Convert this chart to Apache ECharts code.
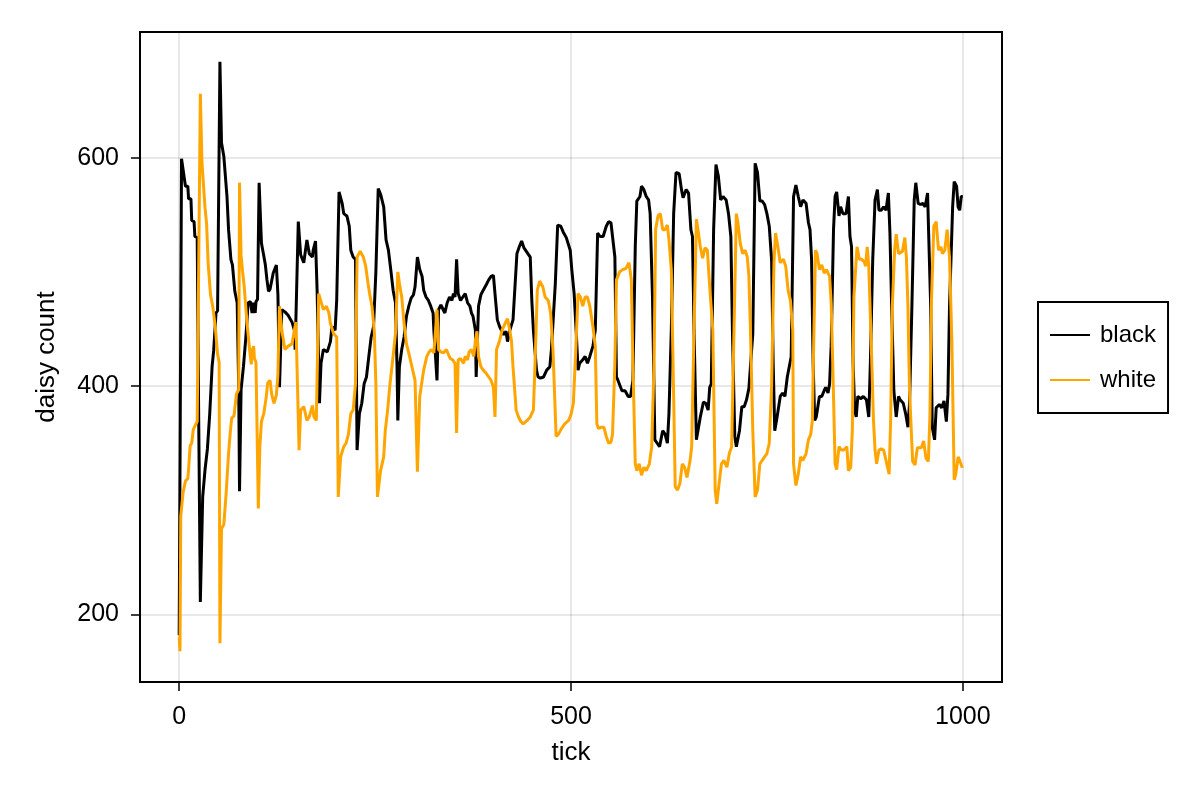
<!DOCTYPE html>
<html>
<head>
<meta charset="utf-8">
<script src="https://cdn.jsdelivr.net/npm/echarts@6/dist/echarts.min.js"></script>
<style>html,body{margin:0;padding:0;background:#fff;}#chart{width:1200px;height:800px;}</style>
</head>
<body>
<div id="chart"></div>
<script>
const seriesNames = ['black', 'white'];
const xTickValues = [0, 500, 1000];
const yTickValues = [200, 400, 600];

// [tick, daisy count]
const blackPoints = [
[0,182],[3,599],[8,575],[11,575],[12,564],[15,564],[16,545],[19,544],[20,531],[23,530],[25,365],[27,211],[30,303],[33,327],[36,345],[39,376],[42,417],[44,431],[47,464],[49,466],[52,684],[54,613],[57,601],[61,566],[63,537],[66,511],[68,506],[71,483],[74,473],[76,397],[77,308],[79,397],[82,417],[85,442],[88,473],[91,474],[93,464],[95,473],[97,464],[98,474],[100,476],[102,578],[105,525],[108,514],[110,506],[112,493],[114,483],[116,485],[120,499],[124,506],[126,480],[128,399],
[131,467],[135,465],[139,462],[144,456],[147,449],[148,432],[152,544],[155,515],[159,508],[163,528],[166,516],[170,513],[171,519],[174,527],[176,484],[179,385],[181,420],[184,432],[189,430],[193,439],[195,452],[199,449],[201,475],[204,570],[208,560],[210,551],[214,549],[217,540],[219,519],[222,513],[225,511],[227,344],[230,376],[233,385],[236,402],[239,408],[242,426],[245,443],[248,452],[251,500],[254,573],
[257,568],[261,557],[264,528],[267,519],[270,502],[273,484],[276,473],[278,417],[279,370],[281,417],[284,432],[287,443],[290,461],[293,470],[296,477],[299,480],[301,487],[304,513],[307,502],[310,496],[312,484],[315,478],[318,475],[321,470],[324,464],[325,449],[329,405],[331,467],[334,471],[336,470],[339,464],[342,473],[345,478],[348,475],[350,481],[352,478],[354,511],[356,481],[359,475],[362,478],[365,481],[368,473],[371,470],[373,464],[375,461],[378,449],[379,408],[382,470],[385,480],[388,484],[392,489],[395,493],[398,496],[401,497],[403,481],[406,458],[409,452],[414,445],[417,448],[419,439],[422,449],[426,458],[431,516],[434,522],[437,527],[440,521],[443,518],[448,513],[450,475],[452,449],[456,414],[458,408],[461,407],[465,408],[469,414],[473,417],[475,432],[480,490],[483,541],[487,540],[490,535],[494,530],[499,519],[501,502],[504,481],[507,443],[509,414],
[511,420],[515,423],[518,426],[521,420],[524,426],[528,435],[531,449],[534,534],[537,531],[541,531],[545,540],[548,544],[551,543],[553,531],[556,513],[558,408],[560,405],[565,396],[569,396],[573,391],[576,391],[579,405],[582,522],[584,562],[588,566],[590,575],[593,572],[596,566],[599,563],[601,551],[604,478],[607,353],[610,350],[613,347],[617,361],[620,358],[623,350],[625,376],[628,449],[631,551],[634,587],[638,586],[641,572],[643,565],[647,572],[650,569],[653,537],[655,531],[657,449],[660,353],[662,361],[665,373],[669,386],[672,385],[675,379],[677,399],[679,402],[682,537],[685,594],[688,584],[691,563],[694,566],[698,563],[701,551],[704,531],[706,449],[709,356],[711,347],[715,361],[718,382],[721,382],[724,388],[727,398],[729,399],[732,446],[735,595],[738,587],[741,562],[744,562],[747,559],[750,551],[753,540],[756,510],[758,420],[760,361],
[763,373],[767,391],[770,394],[773,391],[776,408],[778,408],[781,426],[784,566],[787,576],[790,566],[793,557],[796,563],[800,560],[803,543],[805,537],[807,511],[809,420],[811,370],[813,373],[817,391],[820,391],[823,396],[825,399],[828,394],[830,402],[832,435],[835,537],[837,566],[839,570],[842,549],[844,557],[847,551],[851,551],[854,566],[856,531],[858,522],[860,420],[862,379],[864,373],[866,391],[870,389],[873,391],[877,388],[880,373],[882,420],[885,510],[888,563],[891,572],[893,554],[896,554],[899,557],[902,554],[905,569],[907,534],[909,475],[912,396],[915,373],[918,391],[920,388],[924,385],[927,376],[930,364],[932,385],[935,469],[938,563],[940,578],[943,560],[946,559],[949,560],[952,557],[955,569],[957,519],[959,469],[961,364],[964,353],[966,381],[970,384],[973,381],[976,387],[979,369],[981,393],[983,469],[987,557],[989,579],[992,575],[994,557],[996,554],[998,566],[1000,566]
];

const whitePoints = [
[0,180],[1,168],[2,286],[5,307],[8,317],[11,319],[12,327],[14,348],[16,350],[18,362],[20,365],[23,369],[25,369],[27,656],[29,597],[31,576],[33,556],[35,542],[37,507],[40,480],[43,469],[46,452],[49,428],[51,421],[52,175],[54,275],[57,279],[60,307],[63,341],[65,358],[67,372],[70,374],[73,393],[76,397],[77,578],[79,514],[81,500],[83,487],[85,469],[87,452],[90,431],[92,419],[93,431],[95,435],[96,424],[98,421],[101,293],[103,348],[105,369],[108,376],[111,390],[113,403],[116,405],[118,393],[121,385],[124,392],[126,410],[128,470],
[131,449],[135,432],[139,435],[144,437],[147,449],[149,456],[153,344],[155,379],[159,382],[163,370],[166,373],[170,383],[172,373],[175,370],[178,481],[181,474],[184,467],[188,470],[191,464],[193,455],[197,446],[201,443],[203,303],[206,338],[210,347],[213,350],[216,358],[219,376],[222,379],[225,402],[227,513],[231,518],[235,513],[238,505],[241,490],[243,481],[246,470],[249,448],[251,402],[253,303],
[257,326],[261,338],[263,361],[266,379],[269,402],[272,420],[276,446],[279,500],[281,490],[284,478],[287,455],[290,437],[294,426],[297,417],[299,417],[301,405],[304,325],[307,391],[310,405],[312,414],[316,426],[319,430],[322,432],[325,429],[329,467],[331,432],[334,430],[337,429],[341,432],[344,427],[346,424],[349,423],[352,420],[354,359],[356,423],[359,424],[363,420],[365,426],[368,423],[370,430],[373,432],[376,426],[378,440],[380,448],[382,426],[385,417],[388,414],[392,411],[395,408],[398,405],[401,399],[403,373],[405,432],[409,440],[412,449],[416,455],[419,459],[421,452],[424,440],[426,417],[430,379],[433,373],[436,369],[439,367],[444,370],[448,373],[452,379],[454,417],[457,484],[460,492],[464,487],[467,478],[471,475],[474,464],[477,432],[481,356],[484,358],[488,363],[492,367],[497,370],[500,375],
[503,385],[506,430],[509,481],[512,478],[515,470],[518,478],[521,478],[524,470],[528,452],[531,435],[533,367],[535,363],[539,364],[542,364],[545,356],[548,350],[551,351],[553,358],[556,420],[558,493],[562,500],[566,502],[570,503],[574,508],[577,493],[579,420],[582,332],[584,326],[587,332],[590,322],[593,329],[596,326],[600,332],[603,347],[606,420],[608,537],[611,549],[614,551],[617,537],[620,537],[623,541],[625,528],[628,502],[631,391],[633,312],[636,309],[639,315],[642,332],[645,329],[648,320],[652,335],[654,347],[657,449],[660,546],[662,537],[665,522],[668,512],[671,521],[674,519],[677,487],[681,449],[684,309],[686,297],[689,315],[692,332],[695,335],[699,329],[702,341],[705,347],[708,449],[711,551],[713,543],[716,525],[719,516],[722,519],[725,513],[727,496],[729,449],[732,361],[735,303],[738,309],[741,332],[744,335],[747,338],[750,341],[753,350],[756,400],
[759,508],[761,534],[764,522],[767,508],[771,511],[774,505],[777,484],[780,475],[783,449],[784,332],[787,313],[790,323],[793,338],[796,335],[800,341],[803,353],[806,358],[808,370],[810,449],[812,519],[814,516],[817,502],[820,506],[823,499],[826,502],[830,496],[832,473],[834,420],[837,332],[839,327],[842,347],[845,344],[848,344],[852,347],[854,326],[857,329],[859,361],[861,478],[864,511],[865,522],[868,511],[871,511],[874,509],[876,505],[878,522],[880,505],[883,440],[886,370],[888,344],[890,332],[893,344],[896,345],[899,344],[903,332],[906,323],[908,373],[910,469],[913,519],[915,533],[918,516],[920,517],[923,518],[926,530],[928,513],[930,469],[932,396],[936,334],[939,331],[942,346],[944,347],[947,346],[950,352],[953,337],[956,334],[958,373],[960,475],[963,540],[966,544],[969,519],[972,522],[974,516],[977,519],[980,537],[983,513],[986,440],[989,318],[991,323],[994,338],[996,335],[999,329],[1000,330]
];

const FONT = 'Liberation Sans';
const chart = echarts.init(document.getElementById('chart'), null, {renderer: 'canvas'});
const tickStyle = {show: true, inside: false, length: 9, lineStyle: {color: '#000', width: 1.5}};
const gridLineStyle = {show: true, lineStyle: {color: 'rgba(0,0,0,0.12)', width: 1.5}};
const plainNumber = v => String(v);
chart.setOption({
  animation: false,
  backgroundColor: '#fff',
  textStyle: {fontFamily: FONT},
  grid: {left: 140, top: 32, width: 862, height: 650, show: true, borderColor: '#000', borderWidth: 2, backgroundColor: 'transparent'},
  xAxis: {
    type: 'value', min: -50, max: 1050,
    axisLine: {show: false, onZero: false},
    axisTick: Object.assign({}, tickStyle, {customValues: xTickValues}),
    splitLine: gridLineStyle,
    axisLabel: {customValues: xTickValues, formatter: plainNumber, fontSize: 25, color: '#000', margin: 23, fontFamily: FONT},
    name: 'tick', nameLocation: 'middle', nameGap: 58,
    nameTextStyle: {fontSize: 26, color: '#000', fontFamily: FONT}
  },
  yAxis: {
    type: 'value', min: 141, max: 710,
    axisLine: {show: false, onZero: false},
    axisTick: Object.assign({}, tickStyle, {customValues: yTickValues}),
    splitLine: gridLineStyle,
    axisLabel: {customValues: yTickValues, formatter: plainNumber, fontSize: 25, color: '#000', margin: 21, fontFamily: FONT},
    name: 'daisy count', nameLocation: 'middle', nameGap: 80, nameRotate: 90,
    nameTextStyle: {fontSize: 26, color: '#000', fontFamily: FONT}
  },
  legend: {
    show: true, orient: 'vertical', left: 1038, top: 302,
    data: seriesNames,
    icon: 'rect', itemWidth: 40, itemHeight: 2, itemGap: 21,
    borderColor: '#000', borderWidth: 2, padding: [21, 12, 21, 12],
    textStyle: {fontSize: 24, color: '#000', fontFamily: FONT, padding: [0, 0, 0, 5]}
  },
  series: [
    {name: seriesNames[0], type: 'line', data: blackPoints, showSymbol: false, symbol: 'none',
     lineStyle: {color: '#000000', width: 3}, itemStyle: {color: '#000000'}},
    {name: seriesNames[1], type: 'line', data: whitePoints, showSymbol: false, symbol: 'none',
     lineStyle: {color: '#FFA500', width: 3}, itemStyle: {color: '#FFA500'}}
  ]
});
</script>
</body>
</html>
